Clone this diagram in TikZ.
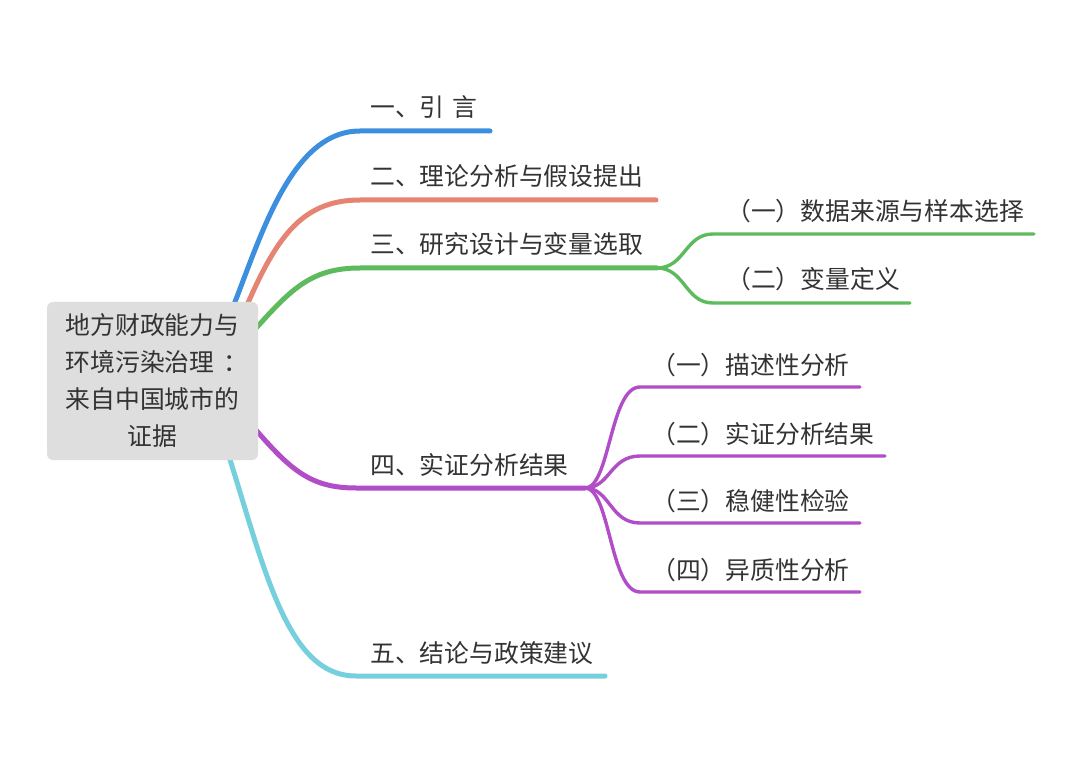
\documentclass[tikz,border=0pt]{standalone}
\usepackage{fontspec}
\setmainfont{Noto Sans CJK SC}
\definecolor{cblue}{HTML}{3C8EDE}
\definecolor{csalmon}{HTML}{E58473}
\definecolor{cgreen}{HTML}{5DBB5D}
\definecolor{cpurple}{HTML}{B04DC7}
\definecolor{ccyan}{HTML}{76CFDC}
\definecolor{boxgray}{HTML}{DEDEDE}
\definecolor{txt}{HTML}{333333}
\tikzset{
  branch/.style={line width=5pt, line cap=round},
  subbranch/.style={line width=3.4pt, line cap=round},
  lbl/.style={anchor=base west, inner sep=0pt, text=txt, font=\fontsize{24.8}{28}\selectfont},
  rootbox/.style={fill=boxgray, rounded corners=6pt, minimum width=211pt, minimum height=158pt, inner sep=0pt}
}
\begin{document}
\begin{tikzpicture}[x=1pt,y=-1pt]
\useasboundingbox[fill=white] (0,0) rectangle (1080,762);
% coordinates
\coordinate (r1) at (231,312);
\coordinate (r2) at (244,312);
\coordinate (r3) at (250,335);
\coordinate (r4) at (250,423);
\coordinate (r5) at (227,450);
\coordinate (h1) at (360,131); \coordinate (e1) at (490,131);
\coordinate (h2) at (360,200); \coordinate (e2) at (656,200);
\coordinate (h3) at (360,268); \coordinate (e3) at (657,268);
\coordinate (h4) at (356,488); \coordinate (e4) at (585,488);
\coordinate (h5) at (356,676); \coordinate (e5) at (605,676);
\coordinate (h31) at (713,234); \coordinate (e31) at (1034,234);
\coordinate (h32) at (713,303); \coordinate (e32) at (910,303);
\coordinate (h41) at (640,387); \coordinate (e41) at (860,387);
\coordinate (h42) at (640,456); \coordinate (e42) at (885,456);
\coordinate (h43) at (640,523); \coordinate (e43) at (860,523);
\coordinate (h44) at (640,592); \coordinate (e44) at (860,592);
% main branches
\draw[branch, cblue] (r1) .. controls (260,240) and (290,131) .. (h1) -- (e1);
\draw[branch, csalmon] (r2) .. controls (275,240) and (300,200) .. (h2) -- (e2);
\draw[branch, cgreen] (r3) .. controls (290,290) and (310,268) .. (h3) -- (e3);
\draw[branch, cpurple] (r4) .. controls (290,470) and (310,488) .. (h4) -- (e4);
\draw[branch, ccyan] (r5) .. controls (265,570) and (287,676) .. (h5) -- (e5);
% sub branches
\draw[subbranch, cgreen] (e3) .. controls (685,268) and (685,234) .. (h31) -- (e31);
\draw[subbranch, cgreen] (e3) .. controls (685,268) and (685,303) .. (h32) -- (e32);
\draw[subbranch, cpurple] (e4) .. controls (610,488) and (610,387) .. (h41) -- (e41);
\draw[subbranch, cpurple] (e4) .. controls (610,488) and (610,456) .. (h42) -- (e42);
\draw[subbranch, cpurple] (e4) .. controls (610,488) and (610,523) .. (h43) -- (e43);
\draw[subbranch, cpurple] (e4) .. controls (610,488) and (610,592) .. (h44) -- (e44);
% root
\node[rootbox] (root) at (152.5,381) {};
\node[text=txt, font=\fontsize{24.8}{37}\selectfont, align=center, inner sep=0pt] (roottext) at (152.5,381) {地方财政能力与\\环境污染治理\kern0.35em：\kern-0.35em\\来自中国城市的\\证据};
% labels
\node[lbl] (l1) at (370,117) {一、引\hspace{0.3em}言};
\node[lbl] (l2) at (370,186) {二、理论分析与假设提出};
\node[lbl] (l3) at (370,254) {三、研究设计与变量选取};
\node[lbl] (l4) at (370,474) {四、实证分析结果};
\node[lbl] (l5) at (370,662) {五、结论与政策建议};
\node[lbl] (l31) at (726,221) {（一）数据来源与样本选择};
\node[lbl] (l32) at (726,289) {（二）变量定义};
\node[lbl] (l41) at (651,374) {（一）描述性分析};
\node[lbl] (l42) at (651,443) {（二）实证分析结果};
\node[lbl] (l43) at (651,510) {（三）稳健性检验};
\node[lbl] (l44) at (651,579) {（四）异质性分析};
\end{tikzpicture}
\end{document}
